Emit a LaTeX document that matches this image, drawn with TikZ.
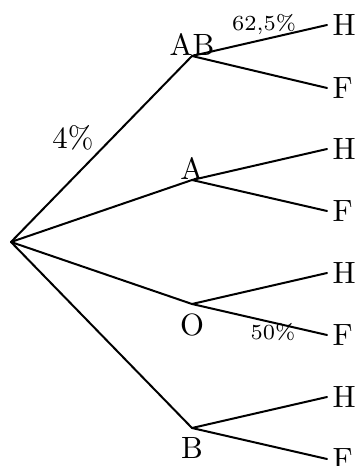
\documentclass[tikz,border=0pt]{standalone}
\begin{document}
\begin{tikzpicture}[x=0.325pt,y=-0.325pt,
  branch/.style={line width=0.65pt,line cap=round,line join=round},
  leaf/.style={anchor=west,inner sep=1.6pt},
  uplabel/.style={above,inner sep=0pt},
  downlabel/.style={below,inner sep=3pt},
  prob/.style={font=\scriptsize,inner sep=0pt}]
\clip (0,0) rectangle (357,466);
% vertices
\coordinate (r) at (11,242);
\coordinate (ab) at (192,56);
\coordinate (a) at (192,180);
\coordinate (o) at (192,304);
\coordinate (b) at (192,428);
% vertex labels
\node[uplabel] (lab) at (ab) {AB};
\node[uplabel] (la) at (a) {A};
\node[downlabel] (lo) at (o) {O};
\node[downlabel] (lb) at (b) {B};
% leaves
\node[leaf] (h1) at (327,25) {H};
\node[leaf] (f1) at (327,88) {F};
\node[leaf] (h2) at (327,149) {H};
\node[leaf] (f2) at (327,211) {F};
\node[leaf] (h3) at (327,273) {H};
\node[leaf] (f3) at (327,335) {F};
\node[leaf] (h4) at (327,397) {H};
\node[leaf] (f4) at (327,459) {F};
% branches
\draw[branch] (r) -- (ab);
\draw[branch] (r) -- (a);
\draw[branch] (r) -- (o);
\draw[branch] (r) -- (b);
\draw[branch] (ab) -- (h1.west);
\draw[branch] (ab) -- (f1.west);
\draw[branch] (a) -- (h2.west);
\draw[branch] (a) -- (f2.west);
\draw[branch] (o) -- (h3.west);
\draw[branch] (o) -- (f3.west);
\draw[branch] (b) -- (h4.west);
\draw[branch] (b) -- (f4.west);
% probabilities
\node[inner sep=0pt] (p4) at (73,138) {4\%};
\node[prob] (p625) at (264,25) {62,5\%};
\node[prob] (p50) at (273,332) {50\%};
\end{tikzpicture}
\end{document}
